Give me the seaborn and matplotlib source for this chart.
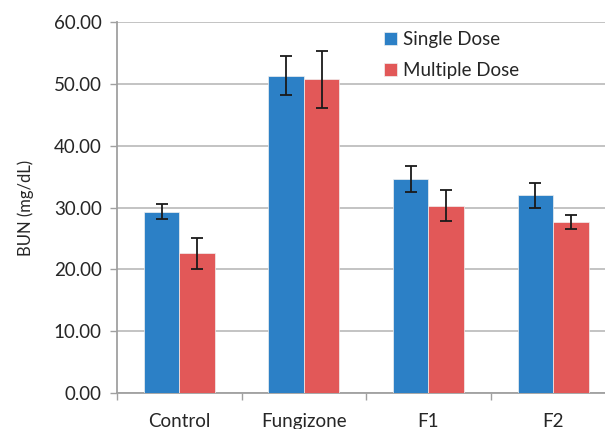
import matplotlib
matplotlib.use("Agg")
import matplotlib.pyplot as plt
import seaborn as sns
import pandas as pd
import numpy as np

categories = ["Control", "Fungizone", "F1", "F2"]
series = ["Single Dose", "Multiple Dose"]
single_dose = [29.3, 51.3, 34.6, 32.0]
multiple_dose = [22.6, 50.7, 30.3, 27.7]
single_err = [1.2, 3.2, 2.1, 2.0]
multiple_err = [2.5, 4.6, 2.55, 1.15]
yticks = [0, 10, 20, 30, 40, 50, 60]

colors = ["#2C80C6", "#E25858"]

df = pd.DataFrame({
    "Group": categories * 2,
    "Series": [series[0]] * 4 + [series[1]] * 4,
    "BUN": single_dose + multiple_dose,
})

sns.set_theme(style="white")
plt.rcParams["font.family"] = ["Lato", "DejaVu Sans"]

fig = plt.figure(figsize=(6.05, 4.29), dpi=100)
ax = fig.add_axes([117 / 605, (429 - 393.3) / 429, (615.3 - 117) / 605, (393.3 - 21.7) / 429])

sns.barplot(data=df, x="Group", y="BUN", hue="Series", order=categories,
            hue_order=series, palette=colors, width=0.57, gap=0,
            errorbar=None, saturation=1, ax=ax, zorder=3,
            edgecolor="#f0f0f0", linewidth=0.5)

errs = [single_err, multiple_err]
for cont, err in zip(ax.containers, errs):
    xs = [p.get_x() + p.get_width() / 2 for p in cont.patches]
    hs = [p.get_height() for p in cont.patches]
    ax.errorbar(xs, hs, yerr=err, fmt="none", ecolor="#1a1a1a",
                elinewidth=1.3, capsize=4.5, capthick=1.3, zorder=4)

ax.set_ylim(0, 60)
ax.set_yticks(yticks)
ax.set_yticklabels([f"{v:.2f}" for v in yticks])
ax.set_xlim(-0.5, len(categories) - 0.5)

ax.yaxis.grid(True, color="#BEBEBE", linewidth=1.3, zorder=0)
ax.set_axisbelow(True)
for s in ["top", "right"]:
    ax.spines[s].set_visible(False)
for s in ["left", "bottom"]:
    ax.spines[s].set_color("#A0A0A0")
    ax.spines[s].set_linewidth(1.3)

ax.tick_params(axis="y", which="major", length=5, width=1.0, color="#A0A0A0",
               direction="out", left=True, labelsize=13.5, labelcolor="#262626", pad=6)
ax.set_xticks(np.arange(-0.5, len(categories) + 0.5, 1), minor=True)
ax.tick_params(axis="x", which="minor", length=5, width=1.0, color="#A0A0A0",
               direction="out", bottom=True)
ax.tick_params(axis="x", which="major", length=0, labelsize=13.5,
               labelcolor="#262626", pad=14)

ax.set_xlabel("")
ax.set_ylabel("BUN (mg/dL)", fontsize=12, color="#262626", labelpad=14)

leg = ax.legend(loc="upper left", bbox_to_anchor=(0.52, 0.995), frameon=False,
                fontsize=13.5, handlelength=0.7, handleheight=0.7,
                handletextpad=0.35, labelspacing=0.75, borderaxespad=0)
for t in leg.get_texts():
    t.set_color("#262626")

fig.savefig("out.png", dpi=100)
